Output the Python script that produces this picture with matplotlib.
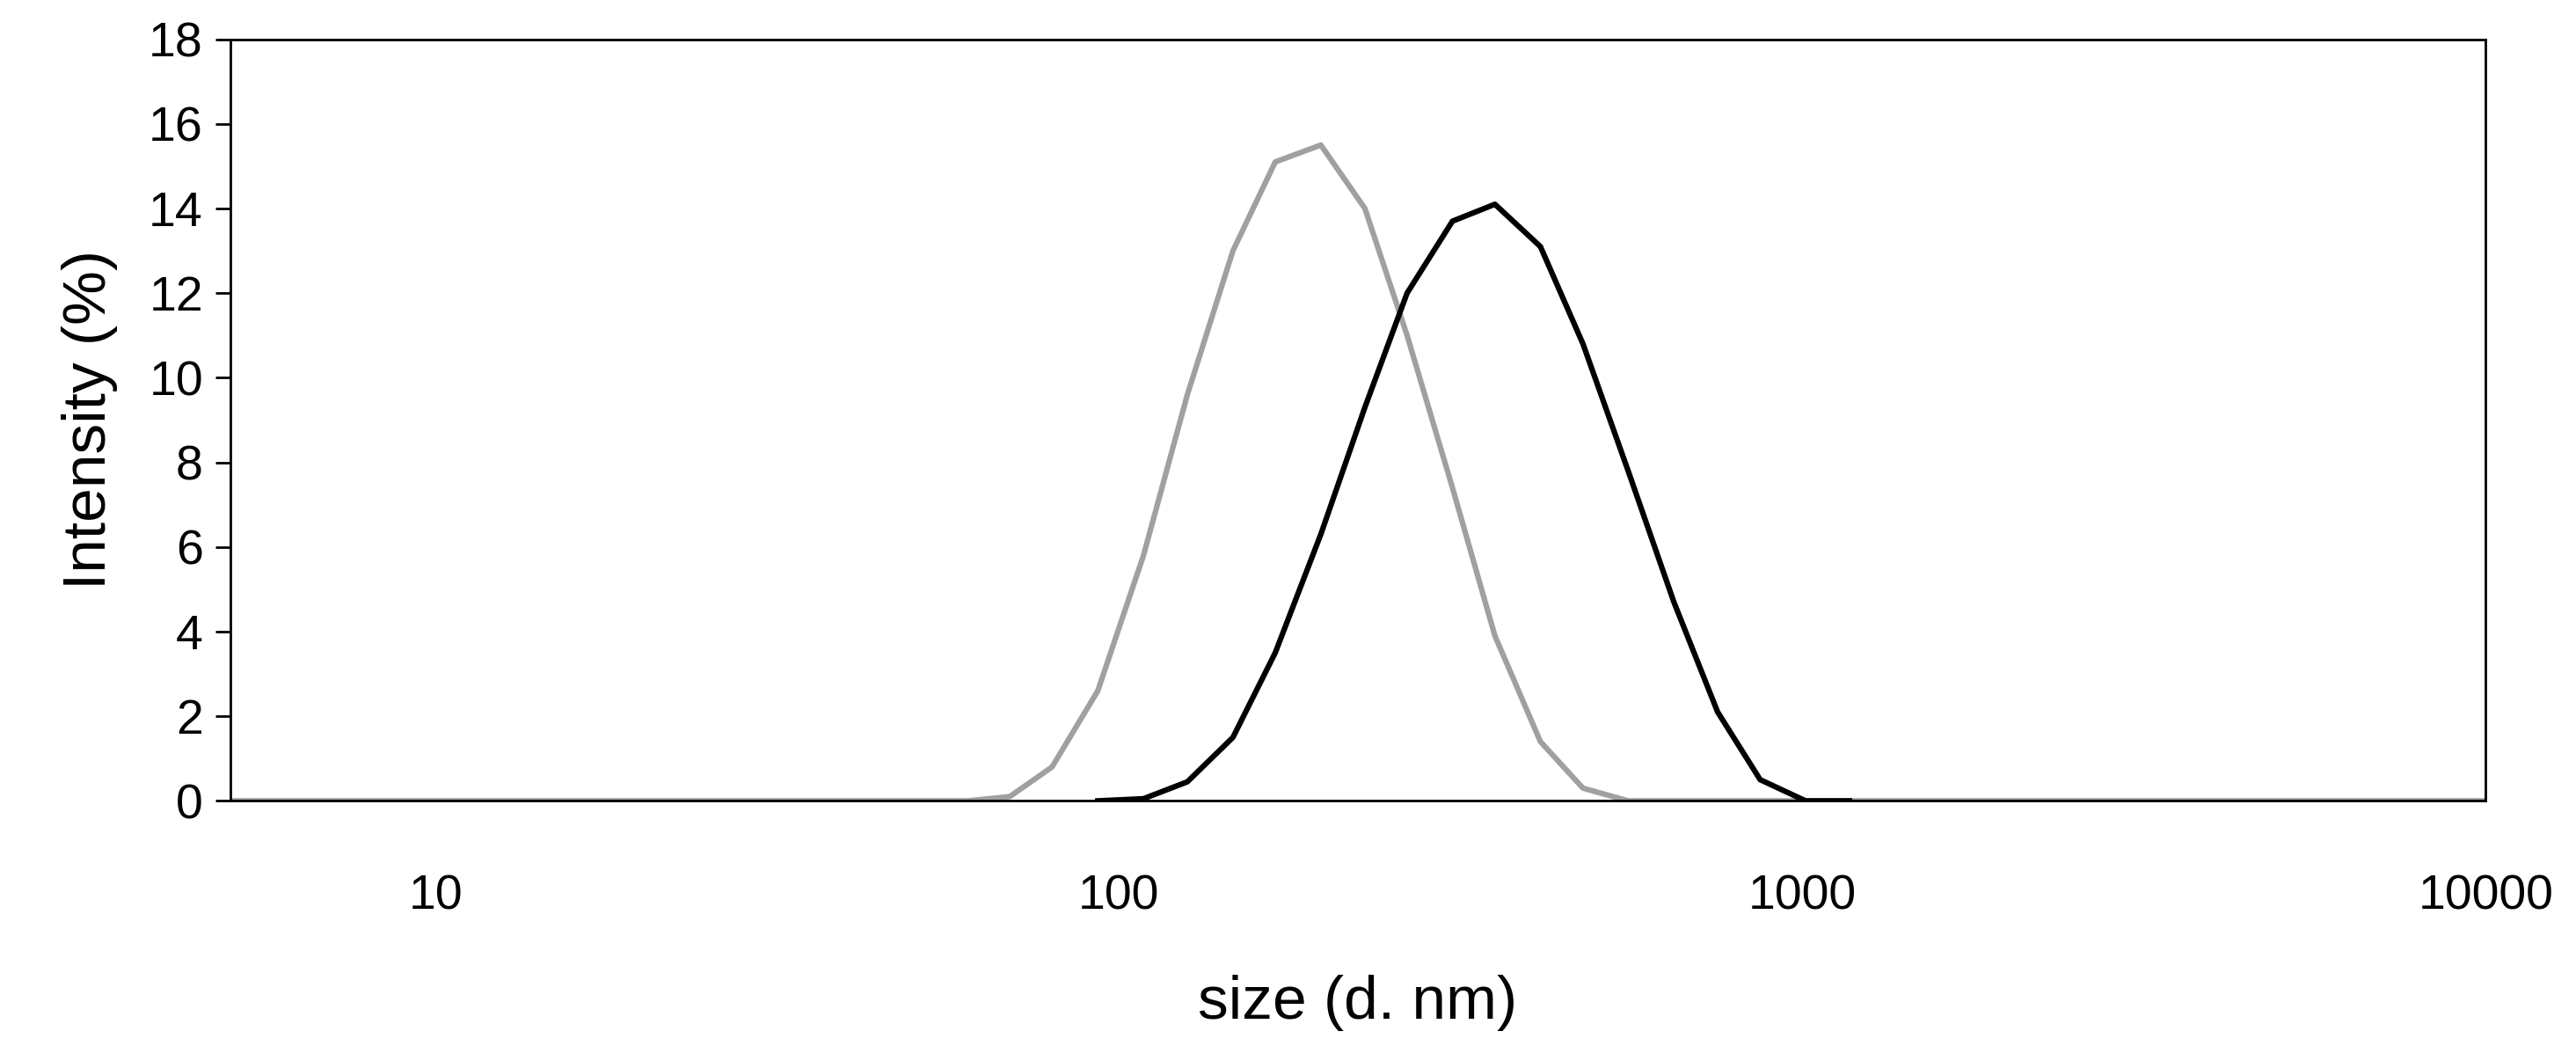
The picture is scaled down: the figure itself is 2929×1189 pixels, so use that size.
import matplotlib
matplotlib.use("Agg")
import matplotlib.pyplot as plt

plt.rcParams['font.family'] = ['Liberation Sans', 'DejaVu Sans']

gray_x = [5, 60.1, 69.2, 79.8, 93.1, 108.6, 125.9, 146.8, 169.3, 197.4, 229, 264, 307.6, 354.9, 413.7, 477.5, 556, 10000]
gray_y = [0, 0, 0.1, 0.8, 2.6, 5.8, 9.6, 13.0, 15.1, 15.5, 14.0, 11.0, 7.4, 3.9, 1.4, 0.3, 0, 0]
black_x = [93.1, 108.6, 125.9, 146.8, 169.3, 197.4, 229, 264, 307.6, 354.9, 413.7, 477.5, 556, 648.6, 751.7, 867.6, 1011, 1172]
black_y = [0, 0.05, 0.45, 1.5, 3.5, 6.3, 9.3, 12.0, 13.7, 14.1, 13.1, 10.8, 7.8, 4.7, 2.1, 0.5, 0, 0]

fig = plt.figure(figsize=(29.29, 11.89), dpi=100)
ax = fig.add_axes([140/1568, 1-490/640, (1513-140)/1568, (490-24)/640])
ax.plot(gray_x, gray_y, color='#a0a0a0', lw=4.5)
ax.plot(black_x, black_y, color='black', lw=4.5)
ax.set_xscale('log')
ax.set_xlim(5, 10000)
ax.set_ylim(0, 18)
ax.set_yticks(range(0, 19, 2))
ax.set_xticks([10, 100, 1000, 10000])
ax.set_xticklabels(['10', '100', '1000', '10000'])
ax.minorticks_off()
ax.tick_params(axis='y', direction='out', length=12, width=2, labelsize=40, pad=10)
ax.tick_params(axis='x', direction='out', length=0, labelsize=40, pad=60)
for s in ax.spines.values():
    s.set_linewidth(2)
ax.set_xlabel('size (d. nm)', fontsize=50, labelpad=45)
ax.set_ylabel('Intensity (%)', fontsize=50, labelpad=25)
fig.savefig('out.png', dpi=100)
